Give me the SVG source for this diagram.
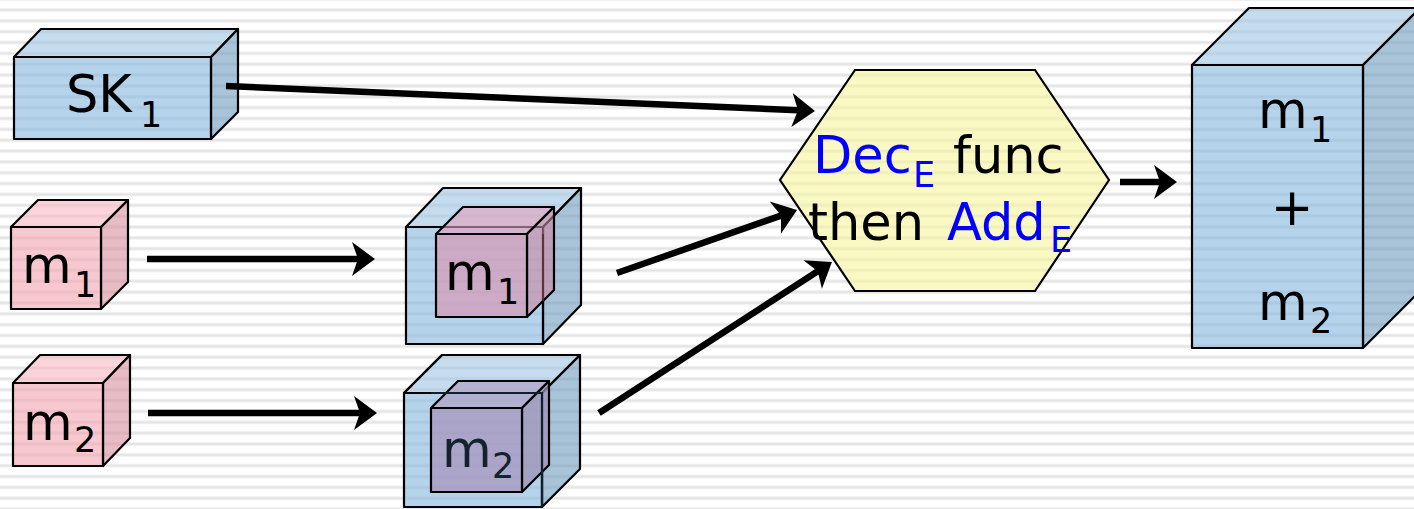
<svg xmlns="http://www.w3.org/2000/svg" width="1414" height="509" viewBox="0 0 1414 509">
  <defs>
    <!-- ruled paper background -->
    <pattern id="ruled" patternUnits="userSpaceOnUse" x="0" y="8" width="40" height="10.85">
      <rect x="0" y="0" width="40" height="10.85" fill="#ffffff"/>
      <rect x="0" y="0" width="40" height="1" fill="#f1f1f1"/>
      <rect x="0" y="1" width="40" height="2" fill="#e5e5e5"/>
      <rect x="0" y="3" width="40" height="1" fill="#f1f1f1"/>
    </pattern>
    <marker id="head" markerUnits="userSpaceOnUse" orient="auto" viewBox="-8 -19 28 38" refX="0" refY="0" markerWidth="28" markerHeight="38">
      <path d="M17,0 L-6,-17 L0,0 L-6,17 Z" fill="#000"/>
    </marker>
  </defs>
  <style>
    .edge { stroke: #000; stroke-width: 2.2; stroke-linejoin: round; }
    .bf { fill: #84b6dc; fill-opacity: 0.6; }
    .bt { fill: #9dc5e3; fill-opacity: 0.6; }
    .br { fill: #709bbe; fill-opacity: 0.6; }
    .pf { fill: #f3a3b1; fill-opacity: 0.6; }
    .pt { fill: #f8b6c1; fill-opacity: 0.6; }
    .pr { fill: #d98f9d; fill-opacity: 0.6; }
    .mf { fill: #dd8fae; fill-opacity: 0.6; }
    .mt { fill: #e49dbc; fill-opacity: 0.6; }
    .mr { fill: #cc89a4; fill-opacity: 0.6; }
    .vf { fill: #a795bd; fill-opacity: 0.75; }
    .vt { fill: #b1a4c8; fill-opacity: 0.75; }
    .vr { fill: #9d91b5; fill-opacity: 0.75; }
    .hex { fill: #f7f39b; fill-opacity: 0.6; stroke: #000; stroke-width: 2.2; }
    .lbl { font-family: "DejaVu Sans", Verdana, sans-serif; font-size: 51px; fill: #000; }
    .sub { font-size: 35px; }
    .blue { fill: #0000ff; }
    .conn { stroke: #000; stroke-width: 6.5; fill: none; marker-end: url(#head); }
  </style>

  <rect x="0" y="0" width="1414" height="509" fill="url(#ruled)"/>

  <!-- secret key block -->
  <g id="sk1">
    <polygon class="bt edge" points="14,57 41,29 238,29 211,57"/>
    <polygon class="br edge" points="211,57 238,29 238,112 211,139"/>
    <rect class="bf edge" x="14" y="57" width="197" height="82"/>
    <text class="lbl"><tspan x="66" y="112">SK</tspan><tspan class="sub" x="140" y="127">1</tspan></text>
  </g>

  <!-- plaintext m1 -->
  <g id="m1">
    <polygon class="pt edge" points="11,227 38,200 128,200 101,227"/>
    <polygon class="pr edge" points="101,227 128,200 128,282 101,309"/>
    <rect class="pf edge" x="11" y="227" width="90" height="82"/>
    <text class="lbl"><tspan x="22" y="283">m</tspan><tspan class="sub" x="74" y="297">1</tspan></text>
  </g>

  <!-- plaintext m2 -->
  <g id="m2">
    <polygon class="pt edge" points="13,383 40,355 130,355 103,383"/>
    <polygon class="pr edge" points="103,383 130,355 130,438 103,466"/>
    <rect class="pf edge" x="13" y="383" width="90" height="83"/>
    <text class="lbl"><tspan x="23" y="440">m</tspan><tspan class="sub" x="74" y="452">2</tspan></text>
  </g>

  <!-- encrypted m1: plaintext cube placed over the blue box -->
  <g id="enc-m1">
    <polygon class="bt edge" points="406,227 443,188 581,188 543,227"/>
    <polygon class="br edge" points="543,227 581,188 581,305 543,344"/>
    <rect class="bf edge" x="406" y="227" width="137" height="117"/>
    <polygon class="mt edge" points="436,234 463,207 554,207 527,234"/>
    <polygon class="mr edge" points="527,234 554,207 554,290 527,317"/>
    <rect class="mf edge" x="436" y="234" width="91" height="83"/>
    <line x1="543" y1="234" x2="543" y2="301" stroke="#5a2630" stroke-width="1.5"/>
    <text class="lbl"><tspan x="445" y="290">m</tspan><tspan class="sub" x="497" y="304">1</tspan></text>
  </g>

  <!-- encrypted m2: blue box wrapped round the plaintext cube -->
  <g id="enc-m2">
    <polygon class="bt edge" points="404,393 442,355 580,355 542,393"/>
    <polygon class="br edge" points="542,393 580,355 580,469 542,507"/>
    <rect class="bf edge" x="404" y="393" width="138" height="114"/>
    <polygon class="vt edge" points="431,408 458,381 549,381 522,408"/>
    <polygon class="vr edge" points="522,408 549,381 549,465 522,492"/>
    <rect class="vf edge" x="431" y="408" width="91" height="84"/>
    <!-- front edges of the box, seen over the cube -->
    <polyline points="431,393 542,393 542,507" fill="none" stroke="#10202c" stroke-width="2.2"/>
    <line x1="442" y1="355" x2="404" y2="393" stroke="#000" stroke-width="2.2"/>
    <text class="lbl" style="fill:#14222e"><tspan x="442" y="467">m</tspan><tspan class="sub" x="492" y="478">2</tspan></text>
  </g>

  <!-- homomorphic evaluation step -->
  <g id="eval">
    <polygon class="hex" points="855,70 1035,70 1109,180 1035,291 855,291 780,180"/>
    <text class="lbl"><tspan class="blue" x="813" y="173">Dec</tspan><tspan class="blue sub" x="913" y="187">E</tspan><tspan x="953" y="173">func</tspan></text>
    <text class="lbl"><tspan x="808" y="240">then</tspan><tspan class="blue" x="947" y="240">Add</tspan><tspan class="blue sub" x="1050" y="252">E</tspan></text>
  </g>

  <!-- encrypted sum -->
  <g id="result">
    <polygon class="bt edge" points="1192,65 1249,8 1420,8 1363,65"/>
    <polygon class="br edge" points="1363,65 1420,8 1420,291 1363,348"/>
    <rect class="bf edge" x="1192" y="65" width="171" height="283"/>
    <text class="lbl"><tspan x="1258" y="128">m</tspan><tspan class="sub" x="1310" y="142">1</tspan></text>
    <text class="lbl" x="1292" y="225" text-anchor="middle">+</text>
    <text class="lbl"><tspan x="1258" y="320">m</tspan><tspan class="sub" x="1310" y="333">2</tspan></text>
  </g>

  <g id="connectors">
    <line class="conn" x1="226" y1="86" x2="798" y2="110.3"/>
    <line class="conn" x1="147" y1="259" x2="358" y2="259"/>
    <line class="conn" x1="148" y1="413" x2="360" y2="413"/>
    <line class="conn" x1="617" y1="273" x2="781" y2="215.6"/>
    <line class="conn" x1="599" y1="413" x2="817.7" y2="271.2"/>
    <line class="conn" x1="1120" y1="182" x2="1160" y2="182"/>
  </g>
</svg>
